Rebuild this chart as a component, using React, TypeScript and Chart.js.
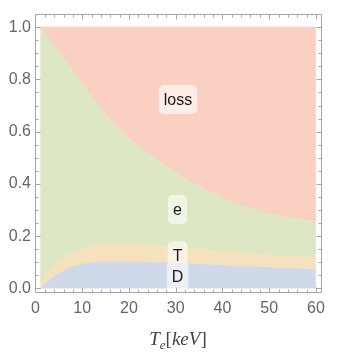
import React, { useEffect, useRef } from "react";
import { Chart, registerables } from "chart.js";

Chart.register(...registerables);

// Electron temperature (keV)
const temperatures = [1, 2, 3, 4, 6, 8, 10, 12, 15, 20, 25, 30, 35, 40, 45, 50, 55, 60];
// Upper boundaries of the stacked regions (cumulative fractions)
const dBoundary = [0.0, 0.016, 0.031, 0.045, 0.066, 0.082, 0.092, 0.097, 0.1, 0.1, 0.098, 0.096, 0.092, 0.087, 0.083, 0.079, 0.075, 0.071];
const tBoundary = [0.02, 0.045, 0.067, 0.085, 0.116, 0.139, 0.154, 0.163, 0.168, 0.168, 0.163, 0.156, 0.149, 0.141, 0.134, 0.127, 0.121, 0.116];
const eBoundary = [1.0, 0.976, 0.952, 0.928, 0.88, 0.832, 0.782, 0.735, 0.665, 0.575, 0.502, 0.442, 0.39, 0.345, 0.31, 0.285, 0.268, 0.255];
const lossBoundary = [1, 1, 1, 1, 1, 1, 1, 1, 1, 1, 1, 1, 1, 1, 1, 1, 1, 1];

const xTickValues = [0, 10, 20, 30, 40, 50, 60];
const yTickValues = [0, 0.2, 0.4, 0.6, 0.8, 1.0];

const regionLabels = ["D", "T", "e", "loss"];
const labelX = [30.4, 30.4, 30.4, 30.5];
const labelY = [0.046, 0.125, 0.302, 0.723];

const COLORS = {
  D: "rgb(207,217,233)",
  T: "rgb(246,225,190)",
  e: "rgb(221,231,195)",
  loss: "rgb(249,208,194)",
};

const FRAME_COLOR = "#a6a6a6";

const framePlugin = {
  id: "frameTicks",
  afterDraw(chart: any) {
    const { ctx, chartArea: a, scales } = chart;
    const x = scales.x;
    const y = scales.y;
    const L = Math.round(a.left) + 0.5;
    const R = Math.round(a.right) - 0.5;
    const T = Math.round(a.top) + 0.5;
    const B = Math.round(a.bottom) - 0.5;
    ctx.save();
    ctx.strokeStyle = FRAME_COLOR;
    ctx.lineWidth = 1;
    ctx.beginPath();
    ctx.moveTo(L, T);
    ctx.lineTo(R, T);
    ctx.lineTo(R, B);
    ctx.lineTo(L, B);
    ctx.closePath();
    ctx.stroke();
    ctx.beginPath();
    for (let i = 0; i <= 30; i++) {
      const v = i * 2;
      const px = Math.round(x.getPixelForValue(v)) + 0.5;
      const len = i % 5 === 0 ? 5 : 3;
      ctx.moveTo(px, B);
      ctx.lineTo(px, B - len);
      ctx.moveTo(px, T);
      ctx.lineTo(px, T + len);
    }
    for (let i = 0; i <= 20; i++) {
      const v = i * 0.05;
      const py = Math.round(y.getPixelForValue(v)) + 0.5;
      const len = i % 4 === 0 ? 5 : 3;
      ctx.moveTo(L, py);
      ctx.lineTo(L + len, py);
      ctx.moveTo(R, py);
      ctx.lineTo(R - len, py);
    }
    ctx.stroke();

    // x-axis title: T_e[keV]
    const base = 345;
    const big = '19px "Liberation Serif", "Times New Roman", serif';
    const bigI = 'italic 19px "Liberation Serif", "Times New Roman", serif';
    const smallI = 'italic 13px "Liberation Serif", "Times New Roman", serif';
    const parts = [
      { t: "T", f: bigI, dy: 0 },
      { t: "e", f: smallI, dy: 4 },
      { t: "[", f: big, dy: 0 },
      { t: "keV", f: bigI, dy: 0 },
      { t: "]", f: big, dy: 0 },
    ];
    let total = 0;
    const widths: number[] = [];
    for (const p of parts) {
      ctx.font = p.f;
      const w = ctx.measureText(p.t).width;
      widths.push(w);
      total += w;
    }
    let cx = 178 - total / 2;
    ctx.fillStyle = "#444";
    ctx.textAlign = "left";
    ctx.textBaseline = "alphabetic";
    parts.forEach((p, i) => {
      ctx.font = p.f;
      ctx.fillText(p.t, cx, base + p.dy);
      cx += widths[i];
    });
    ctx.restore();
  },
};

const labelPlugin = {
  id: "regionLabels",
  afterDatasetsDraw(chart: any) {
    const { ctx, scales } = chart;
    ctx.save();
    ctx.font = '16px "Liberation Sans", Arial, sans-serif';
    ctx.beginPath();
    const items = regionLabels.map((t, i) => {
      const px = scales.x.getPixelForValue(labelX[i]);
      const py = scales.y.getPixelForValue(labelY[i]);
      const w = ctx.measureText(t).width + 10;
      const h = 29;
      ctx.roundRect(px - w / 2, py - h / 2, w, h, 5);
      return { t, px, py };
    });
    ctx.fillStyle = "rgba(255,255,255,0.6)";
    ctx.fill();
    ctx.fillStyle = "#1a1a1a";
    ctx.textAlign = "center";
    ctx.textBaseline = "middle";
    for (const it of items) ctx.fillText(it.t, it.px, it.py + 1);
    ctx.restore();
  },
};

function makeSet(label: string, values: number[], color: string, fill: any) {
  return {
    label,
    data: temperatures.map((t, i) => ({ x: t, y: values[i] })),
    backgroundColor: color,
    borderColor: color,
    borderWidth: 1,
    pointRadius: 0,
    fill,
    cubicInterpolationMode: "monotone" as const,
  };
}

export default function App() {
  const canvasRef = useRef<HTMLCanvasElement>(null);

  useEffect(() => {
    if (!canvasRef.current) return;
    const chart = new Chart(canvasRef.current, {
      type: "line",
      data: {
        datasets: [
          makeSet("D", dBoundary, COLORS.D, "origin"),
          makeSet("T", tBoundary, COLORS.T, "-1"),
          makeSet("e", eBoundary, COLORS.e, "-1"),
          makeSet("loss", lossBoundary, COLORS.loss, "-1"),
        ],
      },
      options: {
        animation: false,
        responsive: true,
        maintainAspectRatio: false,
        layout: { padding: { top: 7, right: 34, left: 0, bottom: 0 } },
        plugins: {
          legend: { display: false },
          tooltip: { enabled: false },
        },
        scales: {
          x: {
            type: "linear",
            min: -0.1,
            max: 61.3,
            grid: { display: false, drawTicks: false },
            border: { display: false },
            afterFit: (s: any) => {
              s.height = 71;
            },
            afterBuildTicks: (s: any) => {
              s.ticks = xTickValues.map((v) => ({ value: v }));
            },
            ticks: {
              color: "#666",
              font: { family: '"Liberation Sans", Arial, sans-serif', size: 16 },
              padding: 6,
              maxRotation: 0,
              callback: (v: any) => String(v),
            },
          },
          y: {
            type: "linear",
            min: -0.0176,
            max: 1.052,
            grid: { display: false, drawTicks: false },
            border: { display: false },
            afterFit: (s: any) => {
              s.width = 35;
            },
            afterBuildTicks: (s: any) => {
              s.ticks = yTickValues.map((v) => ({ value: v }));
            },
            ticks: {
              color: "#666",
              font: { family: '"Liberation Sans", Arial, sans-serif', size: 16 },
              padding: 4,
              callback: (v: any) => Number(v).toFixed(1),
            },
          },
        },
      },
      plugins: [labelPlugin, framePlugin],
    });
    return () => chart.destroy();
  }, []);

  return (
    <div style={{ position: "absolute", left: 0, top: 0, width: 356, height: 364, background: "#fff" }}>
      <canvas ref={canvasRef} />
    </div>
  );
}
